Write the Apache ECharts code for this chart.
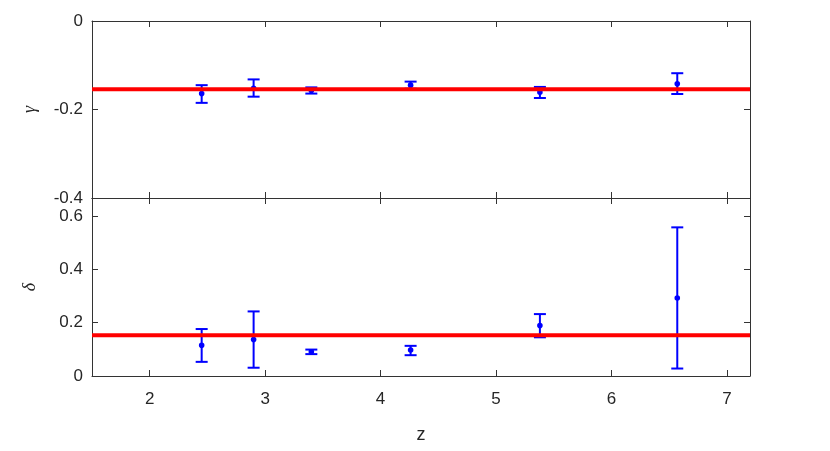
<!DOCTYPE html>
<html>
<head>
<meta charset="utf-8">
<script src="https://cdn.jsdelivr.net/npm/echarts@6/dist/echarts.min.js"></script>
<style>
  html, body { margin: 0; padding: 0; background: #fff; }
  #chart { width: 830px; height: 451px; }
</style>
</head>
<body>
<div id="chart"></div>
<script>
// redshift of each bin
const z = [2.45, 2.90, 3.40, 4.26, 5.38, 6.57];

// gamma: best fit and lower / upper error bounds
const gamma   = [-0.164, -0.152, -0.157, -0.145, -0.161, -0.142];
const gammaLo = [-0.185, -0.171, -0.164, -0.153, -0.174, -0.165];
const gammaHi = [-0.145, -0.132, -0.150, -0.137, -0.149, -0.118];

// delta: best fit and lower / upper error bounds
const delta   = [0.115, 0.137, 0.091, 0.097, 0.189, 0.292];
const deltaLo = [0.053, 0.031, 0.082, 0.078, 0.145, 0.028];
const deltaHi = [0.176, 0.242, 0.099, 0.113, 0.232, 0.557];

// horizontal reference values
const gammaRef = -0.154;
const deltaRef = 0.153;

const xRange = [1.5, 7.2];
const xTicks = [2, 3, 4, 5, 6, 7];
const gammaTicks = [-0.4, -0.2, 0];
const deltaTicks = [0, 0.2, 0.4, 0.6];

const AXIS = "#333333";
const TEXT = "#262626";
const FONT = "Liberation Sans";

const chart = echarts.init(document.getElementById("chart"));

// vertical bar + caps + dot
function renderErr(params, api) {
  const x = api.value(0);
  const c = api.coord([x, api.value(1)]);
  const lo = api.coord([x, api.value(2)]);
  const hi = api.coord([x, api.value(3)]);
  const hw = 6;
  const st = { stroke: "#0000ff", lineWidth: 2 };
  return {
    type: "group",
    children: [
      { type: "line", shape: { x1: lo[0], y1: lo[1], x2: hi[0], y2: hi[1] }, style: st },
      { type: "line", shape: { x1: lo[0] - hw, y1: lo[1], x2: lo[0] + hw, y2: lo[1] }, style: st },
      { type: "line", shape: { x1: hi[0] - hw, y1: hi[1], x2: hi[0] + hw, y2: hi[1] }, style: st },
      { type: "circle", shape: { cx: c[0], cy: c[1], r: 2.8 }, style: { fill: "#0000ff" } },
    ],
  };
}

const xAx = (grid, pos, labels) => ({
  type: "value",
  gridIndex: grid,
  position: pos,
  min: xRange[0],
  max: xRange[1],
  axisLine: { show: true, onZero: false, lineStyle: { color: AXIS, width: 1 } },
  axisTick: { show: true, inside: true, length: 6, customValues: xTicks, lineStyle: { color: AXIS } },
  axisLabel: {
    show: labels,
    customValues: xTicks,
    margin: 15,
    color: TEXT,
    fontFamily: FONT,
    fontSize: 17,
  },
  splitLine: { show: false },
});

const yAx = (grid, pos, min, max, ticks, name) => ({
  type: "value",
  gridIndex: grid,
  position: pos,
  min: min,
  max: max,
  name: name || "",
  nameLocation: "middle",
  nameGap: 53,
  nameRotate: 90,
  nameTextStyle: { color: TEXT, fontFamily: "Liberation Serif", fontStyle: "italic", fontSize: 18 },
  axisLine: { show: true, onZero: false, lineStyle: { color: AXIS, width: 1 } },
  axisTick: { show: true, inside: true, length: 6, customValues: ticks, lineStyle: { color: AXIS } },
  axisLabel: {
    show: pos === "left",
    customValues: ticks,
    margin: 9,
    color: TEXT,
    fontFamily: FONT,
    fontSize: 17,
  },
  splitLine: { show: false },
});

const bottomX = xAx(1, "bottom", true);
bottomX.name = "z";
bottomX.nameLocation = "middle";
bottomX.nameGap = 50;
bottomX.nameTextStyle = { color: TEXT, fontFamily: FONT, fontSize: 18 };

chart.setOption({
  animation: false,
  backgroundColor: "#ffffff",
  grid: [
    { left: 92, right: 80, top: 21, height: 177 },
    { left: 92, right: 80, top: 198, height: 178 },
  ],
  xAxis: [
    xAx(0, "bottom", false),
    xAx(0, "top", false),
    bottomX,
    xAx(1, "top", false),
  ],
  yAxis: [
    yAx(0, "left", -0.4, 0, gammaTicks, "\u03b3"),
    yAx(0, "right", -0.4, 0, gammaTicks),
    yAx(1, "left", 0, 0.667, deltaTicks, "\u03b4"),
    yAx(1, "right", 0, 0.667, deltaTicks),
  ],
  series: [
    {
      type: "custom",
      xAxisIndex: 0,
      yAxisIndex: 0,
      renderItem: renderErr,
      data: z.map((v, i) => [v, gamma[i], gammaLo[i], gammaHi[i]]),
      z: 2,
    },
    {
      type: "line",
      xAxisIndex: 0,
      yAxisIndex: 0,
      data: [[xRange[0], gammaRef], [xRange[1], gammaRef]],
      showSymbol: false,
      lineStyle: { color: "#ff0000", width: 4 },
      z: 3,
    },
    {
      type: "custom",
      xAxisIndex: 2,
      yAxisIndex: 2,
      renderItem: renderErr,
      data: z.map((v, i) => [v, delta[i], deltaLo[i], deltaHi[i]]),
      z: 2,
    },
    {
      type: "line",
      xAxisIndex: 2,
      yAxisIndex: 2,
      data: [[xRange[0], deltaRef], [xRange[1], deltaRef]],
      showSymbol: false,
      lineStyle: { color: "#ff0000", width: 4 },
      z: 3,
    },
  ],
});
</script>
</body>
</html>
